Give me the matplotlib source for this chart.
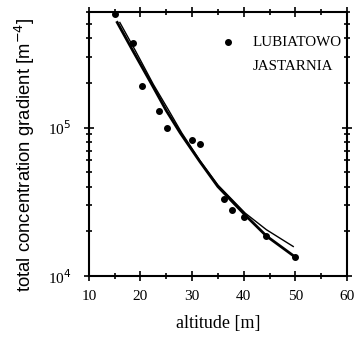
import matplotlib.pyplot as plt
from matplotlib.ticker import FixedLocator, NullFormatter

# measured points (LUBIATOWO)
alt_pts = [15.0, 18.5, 20.3, 23.6, 25.1, 30.0, 31.6, 36.2, 37.8, 40.1, 44.4, 50.0]
grad_pts = [5.8e5, 3.7e5, 1.9e5, 1.3e5, 1.0e5, 8.3e4, 7.7e4, 3.3e4, 2.8e4, 2.5e4, 1.86e4, 1.35e4]

# fitted curves
alt_fit1 = [15.5, 18.5, 22.2, 25.0, 27.7, 31.5, 35.0, 40.3, 44.4, 50.0]
grad_fit1 = [5.1e5, 3.3e5, 1.95e5, 1.3e5, 9.2e4, 5.9e4, 4.0e4, 2.57e4, 1.86e4, 1.34e4]
alt_fit2 = [16.0, 19.0, 22.5, 25.5, 28.0, 31.5, 35.0, 40.3, 44.4, 49.6]
grad_fit2 = [5.1e5, 3.3e5, 1.95e5, 1.3e5, 9.2e4, 6.0e4, 4.1e4, 2.65e4, 2.05e4, 1.58e4]

legend_labels = ['LUBIATOWO', 'JASTARNIA']


def main():
    plt.rcParams['font.family'] = 'Liberation Serif'
    fig = plt.figure(figsize=(3.54, 3.42), dpi=100)
    ax = fig.add_axes([0.251, 0.193, 0.729, 0.772])

    ax.plot(alt_fit1, grad_fit1, 'k-', lw=2.0)
    ax.plot(alt_fit2, grad_fit2, 'k-', lw=1.0)
    ax.plot(alt_pts, grad_pts, 'ko', ms=4)

    ax.set_yscale('log')
    ax.set_xlim(10, 60)
    ax.set_ylim(1e4, 6.0e5)
    ax.set_xticks([10, 20, 30, 40, 50, 60])
    ax.xaxis.set_minor_locator(FixedLocator([15, 25, 35, 45, 55]))
    ax.set_yticks([1e4, 1e5])
    ax.set_yticklabels(['10$^4$', '10$^5$'])
    ax.yaxis.set_minor_formatter(NullFormatter())
    ax.tick_params(which='both', direction='inout', top=True, right=True,
                   labelsize=11, width=1.2)
    ax.tick_params(which='major', length=7)
    ax.tick_params(which='minor', length=5)
    ax.tick_params(axis='y', pad=9)
    ax.tick_params(axis='x', pad=6.5)
    for s in ax.spines.values():
        s.set_linewidth(1.5)

    ax.set_xlabel('altitude [m]', fontsize=13, labelpad=9)
    ax.set_ylabel('total concentration gradient [m$^{-4}$]', fontsize=13.3,
                  family='Liberation Sans', labelpad=8)
    ax.yaxis.label.set_y(0.46)

    # legend drawn as in the original figure
    ax.plot([0.539], [0.886], 'ko', ms=4, transform=ax.transAxes, clip_on=False)
    ax.text(0.636, 0.886, legend_labels[0], transform=ax.transAxes,
            fontsize=10.8, va='center', ha='left')
    ax.text(0.636, 0.795, legend_labels[1], transform=ax.transAxes,
            fontsize=10.8, va='center', ha='left')

    fig.savefig('out.png', dpi=100)


if __name__ == '__main__':
    main()
